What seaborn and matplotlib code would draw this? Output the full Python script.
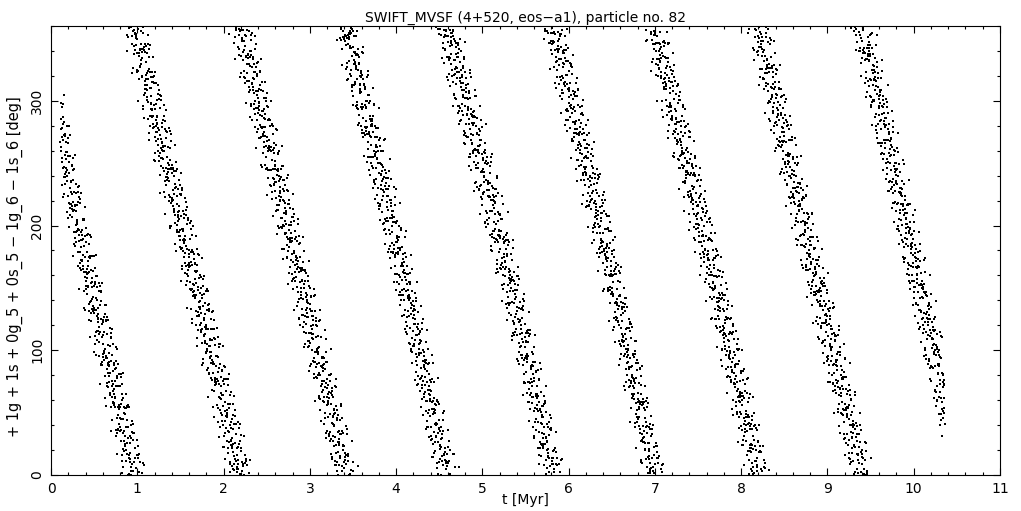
import numpy as np
import pandas as pd
import matplotlib
matplotlib.use("Agg")
import matplotlib.pyplot as plt
import seaborn as sns
from matplotlib.ticker import MultipleLocator

# centre of the circulating angle (unwrapped, deg)
knot_t = [0.11, 0.37, 0.97, 1.58, 2.20, 2.81, 3.42, 4.02, 4.58, 5.24,
          5.82, 6.44, 6.99, 7.61, 8.20, 8.79, 9.40, 9.97, 10.36]
knot_phi = [275, 180, 0, -180, -360, -540, -720, -900, -1080, -1260,
            -1440, -1620, -1800, -1980, -2160, -2340, -2520, -2700, -2820]

# output step of the integration and the short-period terms that smear the band
dt_out = 0.002
short_amp = [23.0, 16.0, 10.0]
short_per = [0.0032361, 0.0048284, 0.0027321]

title = "SWIFT_MVSF (4+520, eos\u2212a1), particle no. 82"
ylabel = "+ 1g + 1s + 0g_5 + 0s_5 \u2212 1g_6 \u2212 1s_6 [deg]"
xlabel = "t [Myr]"

t = np.arange(knot_t[0], knot_t[-1], dt_out)
phi = np.interp(t, knot_t, knot_phi)
for a, p, ph in zip(short_amp, short_per, [0.0, 1.3, 2.1]):
    phi = phi + a * np.sin(2 * np.pi * t / p + ph)
df = pd.DataFrame({"t": t, "phi": np.mod(phi, 360.0)})

sns.set_theme(style="ticks", rc={"text.color": "black", "axes.labelcolor": "black",
                                 "xtick.color": "black", "ytick.color": "black"})
plt.rcParams["font.family"] = ["DejaVu Sans"]

fig = plt.figure(figsize=(10.21, 5.11), dpi=100)
ax = fig.add_axes([51 / 1021, 1 - 475 / 511, 949 / 1021, 449 / 511])

sns.scatterplot(data=df, x="t", y="phi", ax=ax, marker="s", s=0.6,
                color="black", linewidth=0, legend=False)

ax.set_xlim(0, 11)
ax.set_ylim(0, 360)
ax.xaxis.set_major_locator(MultipleLocator(1))
ax.xaxis.set_minor_locator(MultipleLocator(0.2))
ax.yaxis.set_major_locator(MultipleLocator(100))
ax.yaxis.set_minor_locator(MultipleLocator(20))
ax.tick_params(which="both", direction="in", top=True, right=True,
               color="black", width=0.8, labelsize=10, pad=5)
ax.tick_params(which="major", length=5)
ax.tick_params(which="minor", length=2.5)
for lab in ax.get_yticklabels():
    lab.set_rotation(90)
    lab.set_va("center")
for sp in ax.spines.values():
    sp.set_color("black")
    sp.set_linewidth(0.8)

ax.set_title(title, fontsize=10, pad=3)
ax.set_xlabel(xlabel, fontsize=10)
ax.set_ylabel(ylabel, fontsize=10.5)
ax.xaxis.set_label_coords(0.5, -0.04)
ax.yaxis.set_label_coords(-0.029, 0.463)

fig.savefig("out.png", dpi=100)
